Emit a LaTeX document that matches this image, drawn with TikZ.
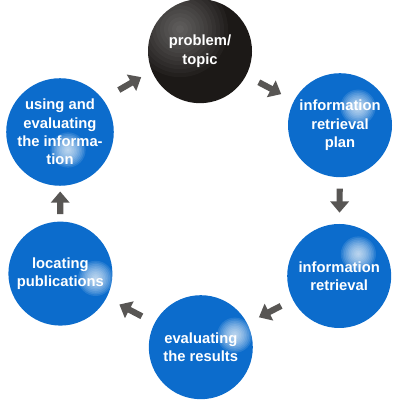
\documentclass[tikz,border=0pt]{standalone}
\usepackage{fontspec}
\setmainfont{Liberation Sans}
\usepackage{tikz}
\usetikzlibrary{arrows.meta, calc}
\definecolor{bleuball}{RGB}{12,108,204}
\definecolor{noirball}{RGB}{28,25,23}
\definecolor{gris}{RGB}{88,86,84}

\begin{document}
\begin{tikzpicture}[
				ball/.style={circle, fill=bleuball, minimum size=2.6cm, inner sep=0pt,
					text=white, align=center,
					font=\bfseries\fontsize{10.5}{13}\selectfont},
				hl/.style={path picture={
					\foreach \r in {0.04,0.08,...,0.48}
						\fill[white, opacity=0.11]
							([shift={(#1)}]path picture bounding box.center) circle (\r);}},
				dark/.style={fill=noirball, path picture={
					\foreach \r in {0.1,0.2,...,1.2}
						\fill[white, opacity=0.03]
							([shift={(-0.5,0.55)}]path picture bounding box.center) circle (\r);}},
				arr/.style={draw=gris, line width=4.4pt,
					-{Triangle[length=8pt, width=13pt]}},
				]
				\useasboundingbox (0,0) rectangle (10,10);
				\node[ball, dark] (top) at (5.0,8.72) {problem/\\topic};
				\node[ball, hl={0.45,0.45}] (rt) at (8.5,6.87) {information\\retrieval\\plan};
				\node[ball, hl={0.48,0.55}] (rb) at (8.48,3.1) {information\\retrieval};
				\node[ball, hl={0.85,0.3}] (bot) at (5.02,1.32) {evaluating\\the results};
				\node[ball, hl={0.88,-0.12}] (lb) at (1.51,3.16) {locating\\publications};
				\node[ball, hl={0.2,-0.45}] (lt) at (1.5,6.7) {using and\\evaluating\\the informa-\\tion};
				
				\draw[arr] ($(lt)!0.42!(top)+(0,0.2)$) -- ($(lt)!0.58!(top)+(0,0.2)$);
				\draw[arr] ($(top)!0.42!(rt)$) -- ($(top)!0.58!(rt)$);
				\draw[arr] ($(rt)!0.42!(rb)$) -- ($(rt)!0.58!(rb)$);
				\draw[arr] ($(rb)!0.42!(bot)$) -- ($(rb)!0.58!(bot)$);
				\draw[arr] ($(bot)!0.42!(lb)$) -- ($(bot)!0.58!(lb)$);
				\draw[arr] ($(lb)!0.42!(lt)$) -- ($(lb)!0.58!(lt)$);
			\end{tikzpicture}
\end{document}
